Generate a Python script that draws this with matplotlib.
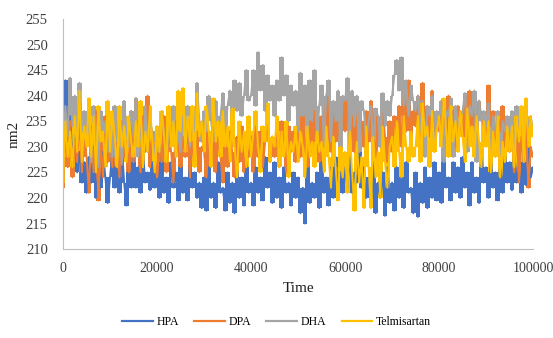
import numpy as np
import matplotlib
matplotlib.use("Agg")
import matplotlib.pyplot as plt

plt.rcParams['font.family'] = ['Liberation Serif', 'DejaVu Serif']

# time axis: one sample every 500 units
time = np.arange(0, 100001, 500)

hpa = [226, 243, 231, 236, 228, 233, 225, 229, 223, 227,
       221, 228, 223, 230, 220, 226, 222, 229, 224, 219,
       224, 229, 222, 227, 221, 230, 223, 218.5, 226, 222,
       228, 222, 226, 221, 229, 223, 225, 221.5, 227, 222,
       226, 220, 228, 221, 224, 219, 227, 222, 225, 219.5,
       227, 221, 224, 219.5, 228, 222, 225, 220, 223, 218,
       224, 217.5, 226, 220, 223, 218, 227, 221, 222, 217.5,
       225, 219, 223, 217, 226, 220, 224, 218.5, 227, 221,
       223, 218.5, 226, 221, 224, 219.5, 228, 222, 225, 219,
       227, 220, 224, 218, 226, 221, 223, 218.5, 225, 220,
       224, 217, 222, 215, 226, 219, 223, 220, 225, 218,
       227, 221, 224, 218.5, 226, 220, 228, 222, 225, 221,
       226, 222, 228, 221, 225, 223, 229, 222, 226, 220,
       224, 219, 227, 217, 223, 220, 225, 216.5, 226, 219,
       223, 217.5, 226, 220, 224, 218, 227, 221, 222, 217,
       225, 216.3, 223, 219, 226, 218, 224, 220, 227, 219.5,
       225, 219, 228, 222, 224, 219.5, 227, 221, 226, 220,
       228, 222, 225, 218.5, 227, 221, 224, 219, 229, 223,
       226, 220, 228, 222, 225, 219.5, 227, 221, 229, 223,
       227, 221.5, 229, 223, 226, 221, 228, 222.5, 230, 224,
       226]

dpa = [222, 233, 226, 235, 224, 231, 227, 236, 225, 232,
       228, 221, 234, 225, 237, 219.5, 231, 224, 236, 227,
       233, 226, 238, 229, 224, 235, 228, 231, 225, 237,
       227, 239.5, 230, 225, 236, 229, 240, 226, 233, 228,
       224, 232, 227, 236, 225, 233, 229, 223, 235, 230,
       226, 232, 228, 234, 224, 231, 227, 233, 225, 230,
       229, 224, 233, 227, 234, 225, 232, 228, 223, 231,
       226, 233, 229, 224, 232, 227, 234, 225, 230, 228,
       232, 225, 234, 228, 233, 226, 231, 235, 227, 232,
       228, 234, 226, 235, 230, 225, 234, 229, 233, 227,
       234, 228, 236, 230, 226, 235, 229, 237, 231, 227,
       236, 230, 240, 232, 229, 238, 231, 235, 230, 239,
       233, 239, 230, 236, 229, 238, 232, 235, 230, 237,
       231, 239, 234, 228, 236, 230, 237, 232, 227, 235,
       229, 236, 232, 238, 230, 241, 233, 243, 231, 237,
       234, 240, 231, 242.5, 235, 238, 232, 241, 230, 236,
       233, 239, 236, 231, 240, 234, 237, 230, 238, 235,
       232, 240, 235, 241, 233, 238, 230, 239, 236, 234,
       231, 242, 234, 237, 229, 236, 233, 238, 230, 235,
       229, 236, 225, 234, 223, 232, 227, 235, 222, 230,
       228]

dha = [229, 238, 232, 243.5, 234, 240, 231, 242.5, 233, 237,
       231, 236, 227, 238, 233, 226, 237, 232, 235, 229,
       234, 228, 238, 231, 236, 226.5, 239, 233, 230, 237,
       232, 239.5, 228, 236, 226, 238, 229, 235, 233, 227,
       234, 229, 237, 232, 227, 235, 231, 238, 228, 233,
       229, 236, 232, 238, 230, 234, 233, 242.5, 235, 231,
       237, 233, 240, 235, 231, 239, 234, 236, 240.5, 232,
       238, 241, 235, 243, 237, 242.5, 236, 240, 245, 239,
       240, 245, 238, 248.5, 241, 246, 237, 244, 239, 242,
       236, 243, 239, 247.5, 240, 244, 235, 242, 238, 241,
       233, 244.5, 236, 242, 232, 243, 235, 245, 231, 238,
       242, 230, 240, 243, 231, 239, 235, 241, 229, 240,
       239, 243.5, 230, 241, 234, 240, 229, 239, 237, 231,
       235, 238, 231, 237.5, 236, 230, 240.5, 234, 239, 236,
       240, 244, 247, 241, 247.5, 238, 243, 236, 242, 239,
       237, 240, 233, 239, 228, 238, 236, 240, 229, 237,
       235, 239, 227, 237, 236, 239.5, 228, 238, 234, 236,
       237, 240.5, 229, 238, 236, 241, 227, 239, 235, 237,
       234, 238.5, 228, 236, 233, 237, 226, 235, 233, 236,
       232, 237, 227, 238, 233, 235, 228, 237.5, 234, 236,
       233]

telmisartan = [223, 235, 228, 233, 226, 236, 229, 241, 227, 234,
               230, 239.5, 228, 236, 225, 238, 231, 233, 226, 239,
               229, 237, 232, 226, 238, 230, 234, 227, 236, 231,
               228, 235, 230, 239, 226, 233, 229, 238, 231, 225,
               234, 229, 237, 232, 227, 238, 230, 235, 228, 241,
               233, 241.5, 229, 236, 231, 238, 226, 240.5, 232, 235,
               229, 238, 233, 226, 239.5, 231, 235, 228, 237, 230,
               234, 227, 237.5, 230, 224, 235, 229, 233, 226, 236,
               228, 233, 237, 230, 225, 234, 231, 238.5, 227, 232,
               230, 236, 226, 233, 228, 235, 224, 231, 229, 234,
               227, 233, 230, 224, 234, 228, 231, 226, 233, 229,
               231, 225, 234, 228, 222, 232, 226, 219.5, 230, 224,
               229, 221, 233, 225, 217.5, 231, 223, 228, 218, 234,
               226, 218, 232, 224, 229, 220, 234, 227, 222, 230,
               232, 226, 235, 229, 224, 236, 230, 227, 233, 228,
               230, 236, 227, 238.5, 232, 234, 226, 237, 229, 233,
               236, 230, 239.5, 233, 228, 238, 231, 235, 229, 237,
               232, 227, 237.5, 230, 234, 228, 236, 231, 226, 235,
               230, 235, 225, 233, 228, 236, 224, 231, 227, 234,
               229, 234, 226, 236, 231, 238, 227, 239.5, 230, 236,
               232]

names = ["HPA", "DPA", "DHA", "Telmisartan"]
colors = ["#4472C4", "#ED7D31", "#A5A5A5", "#FFC000"]

fig = plt.figure(figsize=(5.53, 3.38), dpi=100)
ax = fig.add_axes([0.114, 0.263, 0.850, 0.681])

for vals, name, c in zip([hpa, dpa, dha, telmisartan], names, colors):
    v = np.array(vals, dtype=float)
    # the real trace swings many times per pixel: shade the span between
    # neighbouring samples so the band looks filled
    lo = np.minimum(v[:-1], v[1:])
    hi = np.maximum(v[:-1], v[1:])
    ax.fill_between(time[:-1] + 250, lo, hi, step="mid", color=c, lw=0)
    ax.plot(time, v, color=c, lw=1.4, label=name)

ax.set_xlim(0, 100000)
ax.set_ylim(210, 255)
ax.set_yticks(np.arange(210, 256, 5))
ax.set_xticks(np.arange(0, 100001, 20000))
for s in ["top", "right"]:
    ax.spines[s].set_visible(False)
for s in ["left", "bottom"]:
    ax.spines[s].set_color("#BFBFBF")
ax.tick_params(axis="y", length=0, labelsize=10.5, colors="#404040", pad=11)
ax.tick_params(axis="x", length=0, labelsize=10, colors="#404040", pad=9)
ax.set_xlabel("Time", fontsize=11, color="#202020", labelpad=5)
ax.set_ylabel("nm2", fontsize=11, color="#202020", labelpad=4)

leg = fig.legend(loc="center", bbox_to_anchor=(0.5, 1 - 322 / 338), ncol=4,
                 frameon=False, fontsize=8.5, handlelength=2.6,
                 columnspacing=1.3, handletextpad=0.3)
for h in leg.get_lines():
    h.set_linewidth(1.6)

fig.savefig("out.png", dpi=100)
